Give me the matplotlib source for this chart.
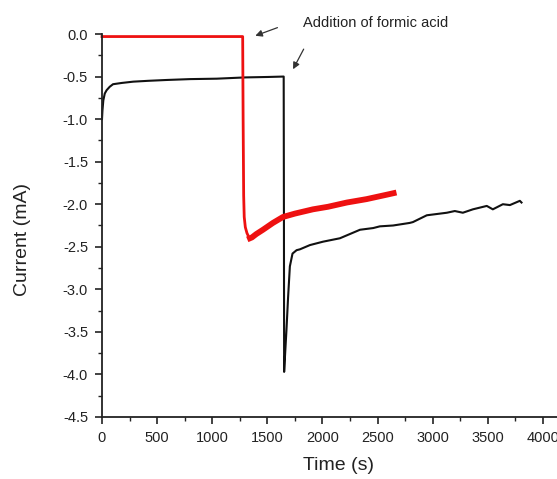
import matplotlib
matplotlib.use("Agg")
import matplotlib.pyplot as plt
import numpy as np
from matplotlib.ticker import MultipleLocator

plt.rcParams['font.family'] = ['Liberation Sans', 'DejaVu Sans']

# black trace (formic acid added at ~1650 s)
black_t = [0, 4, 12, 25, 42, 70, 100, 180, 283, 420, 590, 800, 1040, 1300, 1500,
           1648, 1650, 1652, 1660, 1673, 1688, 1704, 1728, 1765, 1795, 1886, 2005,
           2158, 2340, 2460, 2520, 2640, 2790, 2820, 2946, 3128, 3200, 3273, 3364,
           3490, 3545, 3636, 3700, 3790, 3805]
black_i = [-1.0, -0.9, -0.78, -0.7, -0.66, -0.62, -0.59, -0.575, -0.56, -0.55, -0.54,
           -0.53, -0.525, -0.51, -0.505,
           -0.50, -2.0, -3.97, -3.78, -3.48, -3.09, -2.73, -2.58, -2.54, -2.53, -2.48, -2.44,
           -2.40, -2.30, -2.28, -2.26, -2.25, -2.22, -2.21, -2.13, -2.10, -2.08, -2.10, -2.06,
           -2.02, -2.06, -2.00, -2.01, -1.96, -1.98]

# red trace (formic acid added at ~1280 s)
red_t = [0, 300, 600, 900, 1200, 1276, 1280, 1285, 1290, 1300, 1315, 1330, 1342, 1360,
         1400, 1460, 1550, 1641, 1750, 1913, 2050, 2221, 2400, 2611, 2645]
red_i = [-0.03, -0.03, -0.03, -0.03, -0.03, -0.03, -1.0, -1.9, -2.15, -2.27, -2.34, -2.38,
         -2.40, -2.39, -2.35, -2.30, -2.22, -2.15, -2.11, -2.06, -2.03, -1.98, -1.94, -1.88, -1.87]

fig = plt.figure(figsize=(5.57, 4.79), dpi=100)
ax = fig.add_axes([102 / 557, 1 - 417 / 479, 455 / 557, 383 / 479])

ax.plot(black_t, black_i, color='#111111', lw=1.5, clip_on=False)
ax.plot(red_t, red_i, color='#ee1111', lw=2.0, clip_on=False)
red_t = np.array(red_t)
red_i = np.array(red_i)
noisy = red_t >= 1342
ax.plot(red_t[noisy], red_i[noisy], color='#ee1111', lw=4.2, clip_on=False)

ax.set_xlim(0, 4127)
ax.set_ylim(-4.5, 0)
ax.xaxis.set_major_locator(MultipleLocator(500))
ax.xaxis.set_minor_locator(MultipleLocator(250))
ax.yaxis.set_major_locator(MultipleLocator(0.5))
ax.yaxis.set_minor_locator(MultipleLocator(0.25))
ax.yaxis.set_major_formatter(plt.FuncFormatter(lambda v, p: "%.1f" % v))

for s in ['top', 'right']:
    ax.spines[s].set_visible(False)
for s in ['left', 'bottom']:
    ax.spines[s].set_linewidth(1.3)
    ax.spines[s].set_color('#222222')

ax.tick_params(which='major', direction='out', length=5, width=1.2, labelsize=10.5,
               pad=5, colors='#222222')
ax.tick_params(which='minor', direction='out', length=3, width=1.0, colors='#222222')

ax.set_xlabel('Time (s)', fontsize=14, color='#222222')
ax.set_ylabel('Current (mA)', fontsize=14, color='#222222')
ax.xaxis.set_label_coords(0.519, -0.105)
ax.yaxis.set_label_coords(-0.155, 0.463)

ax.text(1823, 0.13, 'Addition of formic acid', fontsize=10.5, color='#222222',
        ha='left', va='center', clip_on=False)
arrow = dict(arrowstyle='-|>', color='#333333', lw=0.9, mutation_scale=10)
ax.annotate('', xy=(1367, -0.032), xytext=(1615, 0.086), arrowprops=arrow,
            annotation_clip=False)
ax.annotate('', xy=(1721, -0.443), xytext=(1841, -0.149), arrowprops=arrow,
            annotation_clip=False)

fig.savefig('out.png', dpi=100)
